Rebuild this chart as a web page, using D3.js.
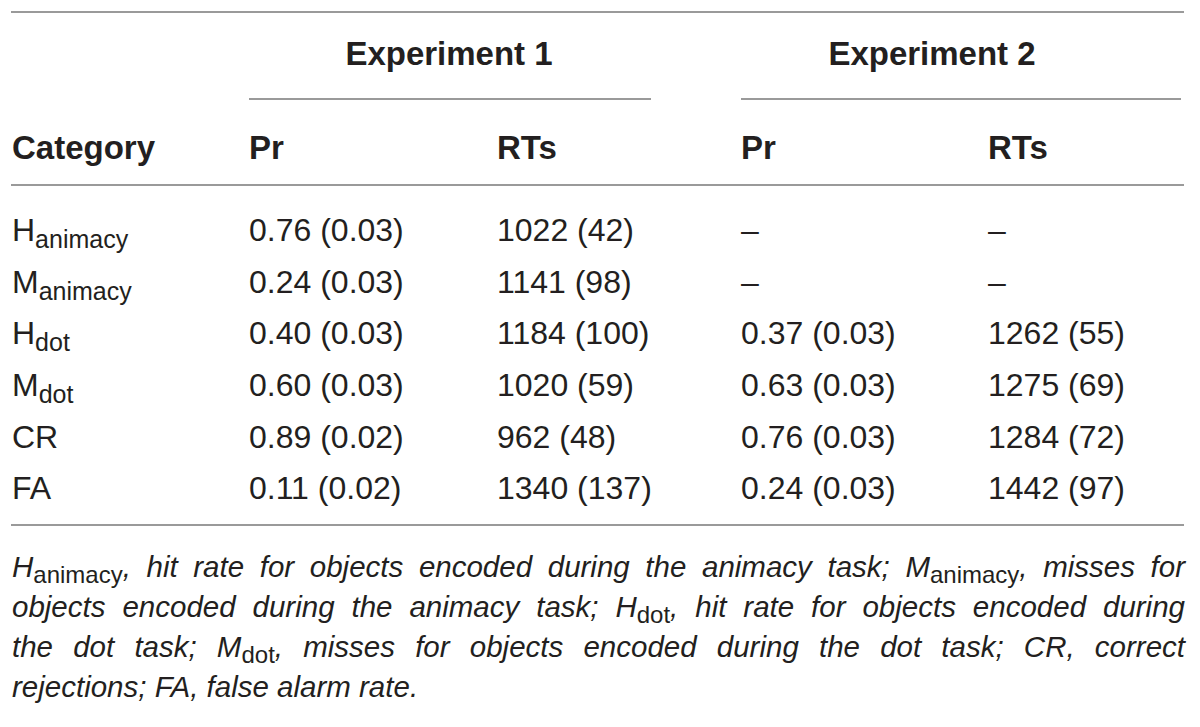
<!DOCTYPE html>
<html>
<head>
<meta charset="utf-8">
<script src="https://cdn.jsdelivr.net/npm/d3@7"></script>
<style>
  body { margin: 0; background: #fff; }
  svg { display: block; }
</style>
</head>
<body>
<div id="chart"></div>
<script>
// table values
const catBase = ["H", "M", "H", "M", "CR", "FA"];
const catSub = ["animacy", "animacy", "dot", "dot", "", ""];

const exp1PrMean = [0.76, 0.24, 0.40, 0.60, 0.89, 0.11];
const exp1PrSE = [0.03, 0.03, 0.03, 0.03, 0.02, 0.02];
const exp1RT = [1022, 1141, 1184, 1020, 962, 1340];
const exp1RTSE = [42, 98, 100, 59, 48, 137];

const exp2PrMean = [null, null, 0.37, 0.63, 0.76, 0.24];
const exp2PrSE = [null, null, 0.03, 0.03, 0.03, 0.03];
const exp2RT = [null, null, 1262, 1275, 1284, 1442];
const exp2RTSE = [null, null, 55, 69, 72, 97];

const groupLabels = ["Experiment 1", "Experiment 2"];
const columnLabels = ["Category", "Pr", "RTs", "Pr", "RTs"];

// footnote, one array per printed line; "_" marks a subscript word
const noteLines = [
  ["H_animacy,", "hit", "rate", "for", "objects", "encoded", "during", "the", "animacy", "task;", "M_animacy,", "misses", "for"],
  ["objects", "encoded", "during", "the", "animacy", "task;", "H_dot,", "hit", "rate", "for", "objects", "encoded", "during"],
  ["the", "dot", "task;", "M_dot,", "misses", "for", "objects", "encoded", "during", "the", "dot", "task;", "CR,", "correct"],
  ["rejections;", "FA,", "false", "alarm", "rate."]
];

const W = 1200, H = 727;
const left = 11, right = 1184;
const ink = "#231f20", rule = "#9a9a9a";
const font = "'Liberation Sans', Arial, Helvetica, sans-serif";

const svg = d3.select("#chart").append("svg")
  .attr("width", W).attr("height", H);

const fmtPr = d3.format(".2f");
const fmtInt = d3.format("d");
const cell = (m, s, f) => m == null ? "\u2013" : `${f(m)} (${f(s)})`;

const rows = catBase.map((b, i) => ({
  base: b, sub: catSub[i],
  cells: [
    cell(exp1PrMean[i], exp1PrSE[i], fmtPr),
    cell(exp1RT[i], exp1RTSE[i], fmtInt),
    cell(exp2PrMean[i], exp2PrSE[i], fmtPr),
    cell(exp2RT[i], exp2RTSE[i], fmtInt)
  ]
}));

// column and row scales
const colX = d3.scaleOrdinal().domain([0, 1, 2, 3, 4]).range([12, 249, 497, 741, 988]);
const rowY = d3.scaleBand().domain(d3.range(rows.length)).range([204, 514]);

// rules
const hRules = [
  { y: 12, x1: left, x2: right },
  { y: 99, x1: 249, x2: 651 },
  { y: 99, x1: 741, x2: right - 3 },
  { y: 185, x1: left, x2: right },
  { y: 525, x1: left, x2: right }
];
svg.selectAll("line.rule").data(hRules).enter().append("line")
  .attr("class", "rule")
  .attr("x1", d => d.x1).attr("x2", d => d.x2)
  .attr("y1", d => d.y).attr("y2", d => d.y)
  .attr("stroke", rule).attr("stroke-width", 2.2);

// group heads
const groupX = d3.scaleOrdinal().domain([0, 1]).range([449, 932]);
svg.selectAll("text.group").data(groupLabels).enter().append("text")
  .attr("class", "group")
  .attr("x", (d, i) => groupX(i)).attr("y", 65)
  .attr("text-anchor", "middle")
  .attr("font-family", font).attr("font-weight", "bold").attr("font-size", 33)
  .attr("fill", ink)
  .text(d => d);

// column heads
svg.selectAll("text.colhead").data(columnLabels).enter().append("text")
  .attr("class", "colhead")
  .attr("x", (d, i) => colX(i)).attr("y", 159)
  .attr("font-family", font).attr("font-weight", "bold").attr("font-size", 33)
  .attr("fill", ink)
  .text(d => d);

// body rows
const row = svg.selectAll("g.row").data(rows).enter().append("g")
  .attr("class", "row")
  .attr("transform", (d, i) => `translate(0,${rowY(i) + rowY.bandwidth() / 2 + 11})`);

const catText = row.append("text")
  .attr("x", colX(0))
  .attr("font-family", font).attr("font-size", 32).attr("fill", ink);
catText.append("tspan").text(d => d.base);
catText.filter(d => d.sub).append("tspan")
  .attr("font-size", 25).attr("dy", 7)
  .text(d => d.sub);

row.selectAll("text.val").data(d => d.cells).enter().append("text")
  .attr("class", "val")
  .attr("x", (d, i) => colX(i + 1))
  .attr("font-family", font).attr("font-size", 32).attr("fill", ink)
  .text(d => d);

// footnote, justified across the table width
const noteY = d3.scaleLinear().domain([0, 1]).range([577, 617]);
const noteSize = 29.5;

noteLines.forEach((words, li) => {
  const g = svg.append("g").attr("transform", `translate(0,${noteY(li)})`);
  const texts = g.selectAll("text").data(words).enter().append("text")
    .attr("font-family", font).attr("font-size", noteSize)
    .attr("font-style", "italic").attr("fill", ink);
  texts.each(function(w) {
    const t = d3.select(this);
    if (w.includes("_")) {
      const [b, rest] = w.split("_");
      const punct = rest.replace(/[a-z]/g, "");
      const sub = rest.replace(/[^a-z]/g, "");
      t.append("tspan").text(b);
      t.append("tspan").attr("font-style", "normal").attr("font-size", 24).attr("dy", 6).text(sub);
      t.append("tspan").attr("dy", -6).text(punct);
    } else {
      t.text(w);
    }
  });
  const widths = [];
  texts.each(function() { widths.push(this.getComputedTextLength()); });
  const total = d3.sum(widths);
  const last = li === noteLines.length - 1;
  const gap = last ? noteSize * 0.278 : (right - left - total) / (words.length - 1);
  let x = left + 1;
  texts.attr("x", (d, i) => {
    const cur = x;
    x += widths[i] + gap;
    return cur;
  });
});
</script>
</body>
</html>
